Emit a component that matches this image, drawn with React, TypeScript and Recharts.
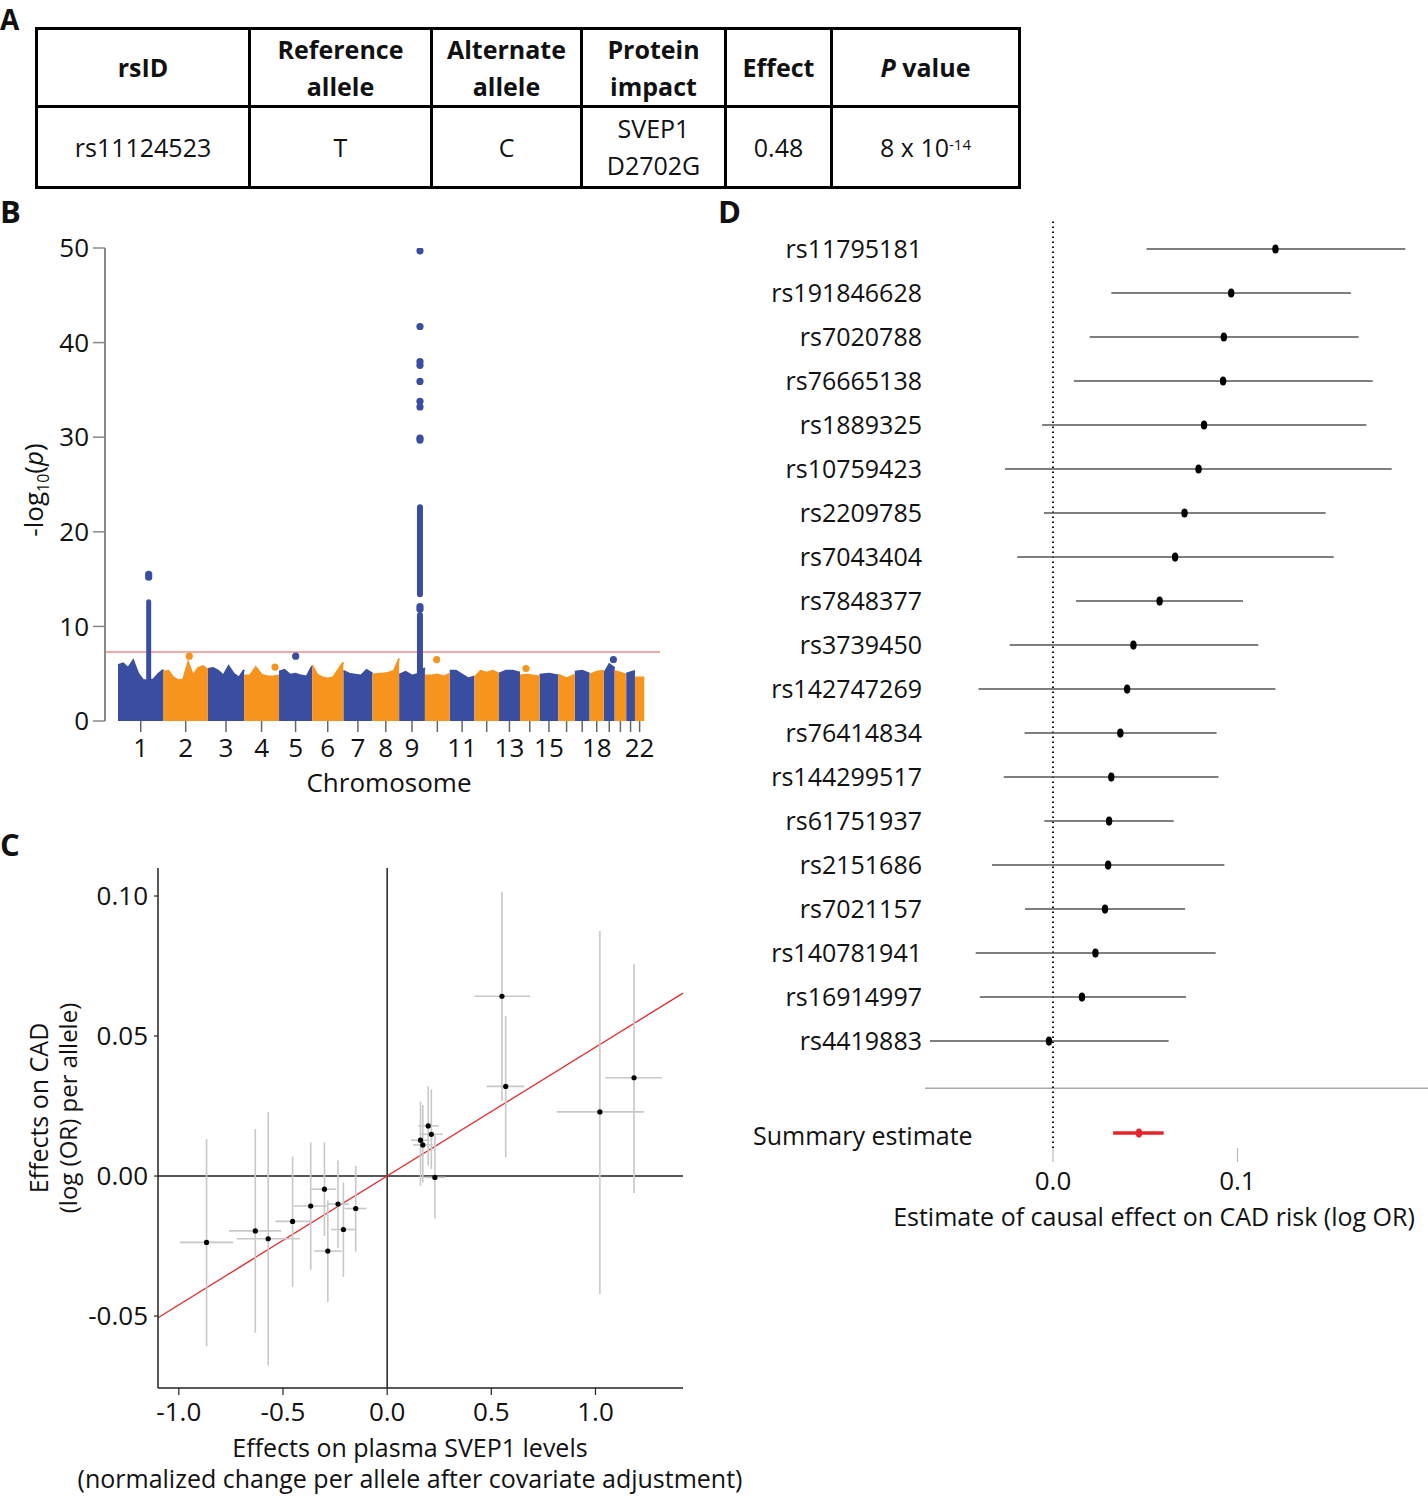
import React from 'react';
import {
  ComposedChart,
  Scatter,
  Area,
  XAxis,
  YAxis,
  ReferenceLine,
  ErrorBar,
} from 'recharts';

const FONT = '"Open Sans", "Noto Sans", sans-serif';
const BLUE = '#3a4ea1';
const ORANGE = '#f7941d';

// ---------- Panel A: variant table ----------
const tableHeaders = ['rsID', 'Reference allele', 'Alternate allele', 'Protein impact', 'Effect', 'P value'];
const tableColWidths = [213, 182, 150, 144, 106, 188];
const variantRow = ['rs11124523', 'T', 'C', 'SVEP1 D2702G', '0.48', '8 x 10-14'];

// ---------- Panel B: Manhattan plot ----------
// chromosome lengths in Mb (hg19)
const chromLengths = [249, 243, 198, 191, 181, 171, 159, 146, 141, 136, 135, 134, 115, 107, 103, 90, 81, 78, 59, 63, 48, 51];
const chromLabels = ['1', '2', '3', '4', '5', '6', '7', '8', '9', '', '11', '', '13', '', '15', '', '', '18', '', '', '', '22'];
// upper edge of the dense cloud of -log10(p), sampled evenly along each chromosome
const chromTops = [
  [5.9, 6.1, 5.6, 6.4, 5.0, 4.3, 4.3, 4.4, 5.0, 5.4],
  [5.2, 5.3, 4.6, 4.3, 4.4, 6.2, 4.8, 5.6, 5.8, 5.4],
  [5.5, 5.6, 5.3, 4.8, 5.8, 5.0, 4.6, 5.4],
  [4.8, 4.8, 5.7, 4.9, 4.7, 4.7, 4.8],
  [5.2, 5.4, 4.9, 5.0, 4.8, 4.7, 5.8],
  [5.9, 4.9, 4.6, 4.5, 4.6, 5.4, 6.2],
  [5.3, 5.0, 4.9, 4.8, 5.4, 5.0],
  [4.9, 5.0, 5.0, 5.1, 5.3, 6.6],
  [4.9, 5.2, 4.8, 5.0, 5.6],
  [4.8, 4.8, 4.9, 4.7, 5.0],
  [5.3, 5.3, 4.9, 4.5, 4.7],
  [4.6, 5.3, 5.1, 5.3, 5.0],
  [5.0, 5.3, 5.3, 5.1],
  [4.8, 4.9, 4.8, 4.7],
  [4.9, 5.0, 4.8],
  [4.9, 4.5, 4.9],
  [5.2, 5.3, 5.0],
  [4.9, 5.2, 5.3],
  [5.0, 6.0, 5.6],
  [5.3, 5.1, 4.9],
  [5.0, 5.3],
  [4.6, 4.6],
];
// isolated points (cumulative position in Mb, -log10 p)
const blueDots = [
  { x: 168, y: 15.5 }, { x: 168, y: 15.2 },
  { x: 972, y: 6.85 }, { x: 2710, y: 6.5 },
  { x: 1652, y: 49.7 }, { x: 1652, y: 41.7 }, { x: 1652, y: 38.0 }, { x: 1652, y: 37.6 },
  { x: 1652, y: 35.9 }, { x: 1652, y: 33.8 }, { x: 1652, y: 33.2 }, { x: 1652, y: 29.9 },
  { x: 1652, y: 29.7 }, { x: 1652, y: 12.1 }, { x: 1652, y: 11.8 },
];
const orangeDots = [
  { x: 390, y: 6.85 }, { x: 859, y: 5.7 }, { x: 1743, y: 6.5 }, { x: 2232, y: 5.55 },
];
// solid runs of stacked points at the two loci
const peakColumns = [
  { x: 168, lo: 4.5, hi: 12.6, w: 5 },
  { x: 1652, lo: 4.0, hi: 11.2, w: 6 },
  { x: 1652, lo: 13.4, hi: 22.6, w: 6 },
];
const gwsThreshold = 7.3;

const chromStarts: number[] = [];
chromLengths.reduce((acc, len) => { chromStarts.push(acc); return acc + len; }, 0);
const chromMids = chromStarts.map((s, i) => s + chromLengths[i] / 2);

const bodyData: any[] = [];
chromTops.forEach((tops, c) => {
  const key = c % 2 === 0 ? 'blue' : 'orange';
  tops.forEach((v, i) => {
    bodyData.push({ x: chromStarts[c] + (chromLengths[c] * i) / (tops.length - 1), [key]: v });
  });
});

// ---------- Panel C: MR scatter ----------
const svepEffect = [-0.867, -0.633, -0.571, -0.454, -0.367, -0.301, -0.285, -0.236, -0.210, -0.151, 0.160, 0.171, 0.197, 0.212, 0.229, 0.551, 0.569, 1.021, 1.185];
const svepLo = [-0.995, -0.759, -0.722, -0.536, -0.447, -0.365, -0.350, -0.288, -0.270, -0.205, 0.115, 0.125, 0.149, 0.162, 0.180, 0.419, 0.478, 0.813, 1.047];
const svepHi = [-0.739, -0.508, -0.419, -0.368, -0.285, -0.244, -0.218, -0.182, -0.154, -0.099, 0.203, 0.218, 0.249, 0.268, 0.279, 0.686, 0.659, 1.232, 1.319];
const cadEffect = [-0.0237, -0.0196, -0.0224, -0.0162, -0.0107, -0.0047, -0.0268, -0.0100, -0.0191, -0.0116, 0.0128, 0.0111, 0.0179, 0.0149, -0.0005, 0.0642, 0.0320, 0.0229, 0.0351];
const cadLo = [-0.0607, -0.0560, -0.0677, -0.0396, -0.0335, -0.0214, -0.0450, -0.0258, -0.0360, -0.0270, -0.0035, -0.0023, 0.0037, 0.0025, -0.0152, 0.0269, 0.0067, -0.0422, -0.0061];
const cadHi = [0.0132, 0.0168, 0.0228, 0.0070, 0.0120, 0.0120, -0.0088, 0.0055, -0.0023, 0.0037, 0.0266, 0.0254, 0.0321, 0.0309, 0.0150, 0.1015, 0.0571, 0.0875, 0.0756];
const ivwSlope = 0.046;

const mrPoints = svepEffect.map((x, i) => ({
  x,
  y: cadEffect[i],
  xErr: [x - svepLo[i], svepHi[i] - x],
  yErr: [cadEffect[i] - cadLo[i], cadHi[i] - cadEffect[i]],
}));

// ---------- Panel D: forest plot ----------
const snpIds = ['rs11795181', 'rs191846628', 'rs7020788', 'rs76665138', 'rs1889325', 'rs10759423', 'rs2209785', 'rs7043404', 'rs7848377', 'rs3739450', 'rs142747269', 'rs76414834', 'rs144299517', 'rs61751937', 'rs2151686', 'rs7021157', 'rs140781941', 'rs16914997', 'rs4419883'];
const causalEst = [0.1206, 0.0966, 0.0926, 0.0922, 0.0819, 0.0789, 0.0713, 0.0662, 0.0578, 0.0436, 0.0402, 0.0365, 0.0316, 0.0304, 0.0299, 0.0282, 0.0230, 0.0157, -0.0022];
const causalLo = [0.0507, 0.0316, 0.0199, 0.0113, -0.0059, -0.0260, -0.0049, -0.0194, 0.0125, -0.0235, -0.0404, -0.0154, -0.0267, -0.0047, -0.0331, -0.0152, -0.0419, -0.0397, -0.0667];
const causalHi = [0.1910, 0.1615, 0.1657, 0.1733, 0.1699, 0.1836, 0.1478, 0.1522, 0.1030, 0.1113, 0.1206, 0.0887, 0.0897, 0.0654, 0.0929, 0.0716, 0.0882, 0.0721, 0.0627];
const summaryEst = 0.0466;
const summaryLo = 0.0326;
const summaryHi = 0.0600;

const forestPoints = snpIds.map((id, i) => ({
  x: causalEst[i],
  y: i,
  err: [causalEst[i] - causalLo[i], causalHi[i] - causalEst[i]],
}));
const summaryRow = snpIds.length + 1.09;
const summaryPoints = [{ x: summaryEst, y: summaryRow, err: [summaryEst - summaryLo, summaryHi - summaryEst] }];

// ---------- helpers ----------
function Txt({ x, y, size = 26, children, weight, anchor = 'center' }: any) {
  const tx = anchor === 'center' ? '-50%' : anchor === 'end' ? '-100%' : '0';
  return (
    <div
      style={{
        position: 'absolute',
        left: x,
        top: y,
        transform: `translate(${tx}, -50%)`,
        whiteSpace: 'nowrap',
        fontSize: size,
        fontWeight: weight,
        fontFamily: FONT,
        color: '#111',
        lineHeight: 1,
      }}
    >
      {children}
    </div>
  );
}

function RotTxt({ x, y, size = 26, children }: any) {
  return (
    <div
      style={{
        position: 'absolute',
        left: x - 200,
        top: y - 20,
        width: 400,
        height: 40,
        lineHeight: '40px',
        textAlign: 'center',
        transform: 'rotate(-90deg)',
        whiteSpace: 'nowrap',
        fontSize: size,
        fontFamily: FONT,
        color: '#111',
      }}
    >
      {children}
    </div>
  );
}

const dot = (r: number, fill: string) => (p: any) => <circle cx={p.cx} cy={p.cy} r={r} fill={fill} />;
const oval = (fill: string) => (p: any) => <ellipse cx={p.cx} cy={p.cy} rx={3.2} ry={4.6} fill={fill} />;

const tickFont = { fontSize: 26, fill: '#111', fontFamily: FONT };

function VariantTable() {
  const cell: React.CSSProperties = {
    border: '3.5px solid #000',
    textAlign: 'center',
    verticalAlign: 'middle',
    padding: 0,
    lineHeight: '37px',
  };
  return (
    <table
      style={{
        position: 'absolute',
        left: 35,
        top: 27,
        width: 983,
        borderCollapse: 'collapse',
        tableLayout: 'fixed',
        fontFamily: FONT,
        fontSize: 25,
        color: '#111',
      }}
    >
      <colgroup>
        {tableColWidths.map((w, i) => <col key={i} style={{ width: w }} />)}
      </colgroup>
      <tbody>
        <tr style={{ height: 78 }}>
          {tableHeaders.map((h, i) => (
            <td key={i} style={{ ...cell, fontWeight: 700 }}>
              {h === 'P value' ? (<><i>P</i> value</>) : i > 0 && i < 4
                ? h.split(' ').map((w, k) => <div key={k}>{w}</div>)
                : h}
            </td>
          ))}
        </tr>
        <tr style={{ height: 81 }}>
          {variantRow.map((v, i) => (
            <td key={i} style={cell}>
              {i === 5 ? (<>8 x 10<sup style={{ fontSize: 15, verticalAlign: 'top', lineHeight: '30px' }}>-14</sup></>)
                : i === 3 ? v.split(' ').map((w, k) => <div key={k}>{w}</div>)
                : v}
            </td>
          ))}
        </tr>
      </tbody>
    </table>
  );
}

export default function App() {
  return (
    <div style={{ position: 'absolute', left: 0, top: 0, width: 1428, height: 1500, background: '#fff', fontFamily: FONT }}>
      <Txt x={0} y={19} size={28} weight={700} anchor="start">A</Txt>
      <Txt x={0} y={211} size={31} weight={700} anchor="start">B</Txt>
      <Txt x={0} y={844} size={31} weight={700} anchor="start">C</Txt>
      <Txt x={718} y={211} size={31} weight={700} anchor="start">D</Txt>

      <VariantTable />

      {/* Panel B */}
      <div style={{ position: 'absolute', left: 0, top: 230 }}>
        <ComposedChart width={680} height={540} data={bodyData} margin={{ top: 18, right: 20, left: 0, bottom: 0 }}>
          <XAxis
            type="number"
            dataKey="x"
            domain={[-71, 2965]}
            allowDataOverflow
            ticks={chromMids}
            interval={0}
            tickFormatter={(v: number) => chromLabels[chromMids.indexOf(v)]}
            axisLine={false}
            tickLine={{ stroke: '#666', strokeWidth: 1.5 }}
            tickSize={11}
            tickMargin={7}
            tick={tickFont}
            height={49}
          />
          <YAxis
            type="number"
            domain={[0, 50]}
            allowDataOverflow
            ticks={[0, 10, 20, 30, 40, 50]}
            width={105}
            axisLine={{ stroke: '#888', strokeWidth: 2 }}
            tickLine={{ stroke: '#888', strokeWidth: 1.5 }}
            tickSize={12}
            tickMargin={4}
            tick={tickFont}
          />
          <ReferenceLine y={gwsThreshold} stroke="#f28b8b" strokeWidth={1.5} />
          <Area dataKey="blue" type="linear" fill={BLUE} fillOpacity={1} stroke={BLUE} strokeWidth={2} connectNulls={false} dot={false} activeDot={false} isAnimationActive={false} />
          <Area dataKey="orange" type="linear" fill={ORANGE} fillOpacity={1} stroke={ORANGE} strokeWidth={2} connectNulls={false} dot={false} activeDot={false} isAnimationActive={false} />
          {peakColumns.map((c, i) => (
            <ReferenceLine
              key={i}
              segment={[{ x: c.x, y: c.lo }, { x: c.x, y: c.hi }]}
              stroke={BLUE}
              strokeWidth={c.w}
              strokeLinecap="round"
            />
          ))}
          <Scatter data={orangeDots} dataKey="y" shape={dot(3.6, ORANGE)} isAnimationActive={false} />
          <Scatter data={blueDots} dataKey="y" shape={dot(3.6, BLUE)} isAnimationActive={false} />
        </ComposedChart>
      </div>
      <RotTxt x={33} y={490} size={26}>-log<sub style={{ fontSize: 16 }}>10</sub>(<i>p</i>)</RotTxt>
      <Txt x={389} y={782} size={26}>Chromosome</Txt>

      {/* Panel C */}
      <div style={{ position: 'absolute', left: 0, top: 850 }}>
        <ComposedChart width={720} height={580} margin={{ top: 18, right: 37, left: 0, bottom: 0 }}>
          <XAxis
            type="number"
            dataKey="x"
            domain={[-1.1, 1.42]}
            allowDataOverflow
            ticks={[-1, -0.5, 0, 0.5, 1]}
            tickFormatter={(v: number) => v.toFixed(1)}
            axisLine={{ stroke: '#222', strokeWidth: 1.5 }}
            tickLine={{ stroke: '#222', strokeWidth: 1.2 }}
            tickSize={7}
            tickMargin={8}
            tick={tickFont}
            height={42}
          />
          <YAxis
            type="number"
            domain={[-0.0757, 0.11]}
            allowDataOverflow
            ticks={[-0.05, 0, 0.05, 0.1]}
            tickFormatter={(v: number) => v.toFixed(2)}
            width={158}
            axisLine={{ stroke: '#222', strokeWidth: 1.5 }}
            tickLine={{ stroke: '#222', strokeWidth: 1.2 }}
            tickSize={4}
            tickMargin={6}
            tick={tickFont}
          />
          <ReferenceLine x={0} stroke="#222" strokeWidth={1.5} />
          <ReferenceLine y={0} stroke="#222" strokeWidth={1.5} />
          <ReferenceLine
            segment={[{ x: -1.1, y: -1.1 * ivwSlope }, { x: 1.42, y: 1.42 * ivwSlope }]}
            stroke="#e8282d"
            strokeWidth={1.3}
            ifOverflow="visible"
          />
          <Scatter data={mrPoints} dataKey="y" shape={dot(2.6, '#000')} isAnimationActive={false}>
            <ErrorBar dataKey="xErr" direction="x" width={0} stroke="#c8c8c8" strokeWidth={1.6} />
            <ErrorBar dataKey="yErr" direction="y" width={0} stroke="#c8c8c8" strokeWidth={1.6} />
          </Scatter>
        </ComposedChart>
      </div>
      <RotTxt x={38} y={1108} size={25}>Effects on CAD</RotTxt>
      <RotTxt x={68} y={1108} size={24}>(log (OR) per allele)</RotTxt>
      <Txt x={410} y={1447} size={25}>Effects on plasma SVEP1 levels</Txt>
      <Txt x={410} y={1478} size={25}>(normalized change per allele after covariate adjustment)</Txt>

      {/* Panel D */}
      <div style={{ position: 'absolute', left: 720, top: 200 }}>
        <ComposedChart width={708} height={1010} margin={{ top: 20, right: 0, left: 0, bottom: 0 }}>
          <XAxis
            type="number"
            dataKey="x"
            domain={[-0.0694, 0.2033]}
            allowDataOverflow
            ticks={[0, 0.1]}
            tickFormatter={(v: number) => v.toFixed(1)}
            axisLine={false}
            tickLine={{ stroke: '#bbb', strokeWidth: 1.2 }}
            tickSize={14}
            tickMargin={10}
            tick={tickFont}
            height={62}
          />
          <YAxis
            type="number"
            domain={[-0.659, 20.43]}
            reversed
            allowDataOverflow
            ticks={snpIds.map((_, i) => i)}
            interval={0}
            tickFormatter={(v: number) => snpIds[v] ?? ''}
            width={205}
            axisLine={false}
            tickLine={false}
            tickSize={0}
            tickMargin={3}
            tick={{ ...tickFont, fontSize: 25 }}
          />
          <ReferenceLine y={snpIds.length + 0.07} stroke="#aaa" strokeWidth={1.5} />
          <ReferenceLine x={0} stroke="#111" strokeWidth={2} strokeDasharray="1.5 3.5" />
          <Scatter data={forestPoints} dataKey="y" shape={oval('#000')} isAnimationActive={false}>
            <ErrorBar dataKey="err" direction="x" width={0} stroke="#555" strokeWidth={1.5} />
          </Scatter>
          <Scatter data={summaryPoints} dataKey="y" shape={oval('#e8232a')} isAnimationActive={false}>
            <ErrorBar dataKey="err" direction="x" width={0} stroke="#e8232a" strokeWidth={3.5} />
          </Scatter>
        </ComposedChart>
      </div>
      <Txt x={753} y={1135} size={25} anchor="start">Summary estimate</Txt>
      <Txt x={1154} y={1216} size={25}>Estimate of causal effect on CAD risk (log OR)</Txt>
    </div>
  );
}
